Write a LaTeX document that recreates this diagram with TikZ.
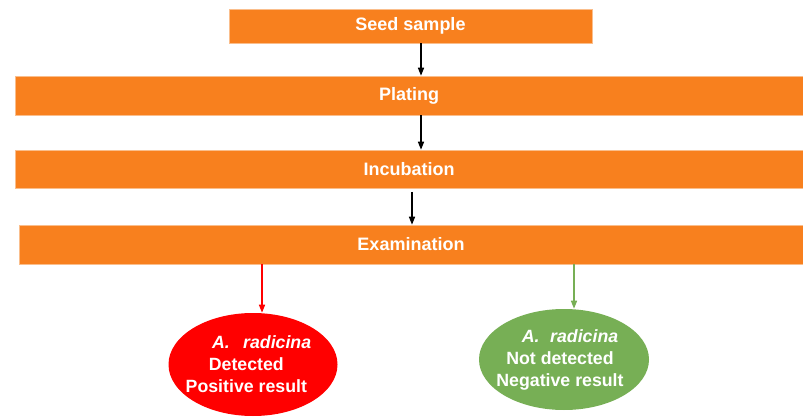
\documentclass[tikz,border=0pt]{standalone}
\usepackage{fontspec}
\setmainfont{Liberation Sans}
\usetikzlibrary{arrows.meta,shapes.geometric}
\definecolor{boxorange}{RGB}{248,128,30}
\definecolor{boxedge}{RGB}{250,190,140}
\definecolor{posred}{RGB}{255,0,0}
\definecolor{neggreen}{RGB}{119,175,85}
\begin{document}
\begin{tikzpicture}[x=0.75pt,y=-0.75pt,
  stepbox/.style={draw=boxedge,line width=0.4pt,fill=boxorange,rectangle,inner sep=0pt,
    text=white,font=\fontsize{13.5}{16}\selectfont\bfseries},
  resultell/.style={ellipse,draw=none,inner sep=0pt},
  elltext/.style={align=center,inner sep=0pt,text=white,
    font=\fontsize{13.3}{16.5}\selectfont\bfseries},
  flow/.style={line width=1.1pt,-{Triangle[width=4.5pt,length=6pt]}}]
\useasboundingbox (0,0) rectangle (803,417);
\node[stepbox,minimum width=272.25pt,minimum height=25.5pt] (seed) at (410.5,26) {Seed sample};
\node[stepbox,minimum width=591pt,minimum height=29.25pt] (plating) at (409,95.5) {Plating};
\node[stepbox,minimum width=591pt,minimum height=28.5pt] (incub) at (409,169) {Incubation};
\node[stepbox,minimum width=588pt,minimum height=29.25pt] (exam) at (411,244.5) {Examination};
\node[resultell,fill=posred,minimum width=126.75pt,minimum height=77.25pt] (pos) at (253,364.5) {};
\node[resultell,fill=neggreen,minimum width=127.5pt,minimum height=75.75pt] (neg) at (564,359.5) {};
\node[elltext,xshift=-5pt] (postext) at (pos.center) {\hspace*{23pt}\textit{A.}\hspace{10pt}\textit{radicina}\\Detected\\Positive result};
\node[elltext,xshift=-3pt] (negtext) at (neg.center) {\hspace*{15pt}\textit{A.}\hspace{8pt}\textit{radicina}\\Not detected\\Negative result};
\coordinate (a1s) at (421,0);
\coordinate (a3s) at (412,192);
\coordinate (rs) at (262,0);
\coordinate (gs) at (574,0);
\draw[flow,black] (seed.south -| a1s) -- (plating.north -| a1s);
\draw[flow,black] (plating.south -| a1s) -- (incub.north -| a1s);
\draw[flow,black] (a3s) -- (exam.north -| a3s);
\draw[flow,posred] (exam.south -| rs) -- (pos.north -| rs);
\draw[flow,neggreen] (exam.south -| gs) -- (neg.north -| gs);
\end{tikzpicture}
\end{document}
